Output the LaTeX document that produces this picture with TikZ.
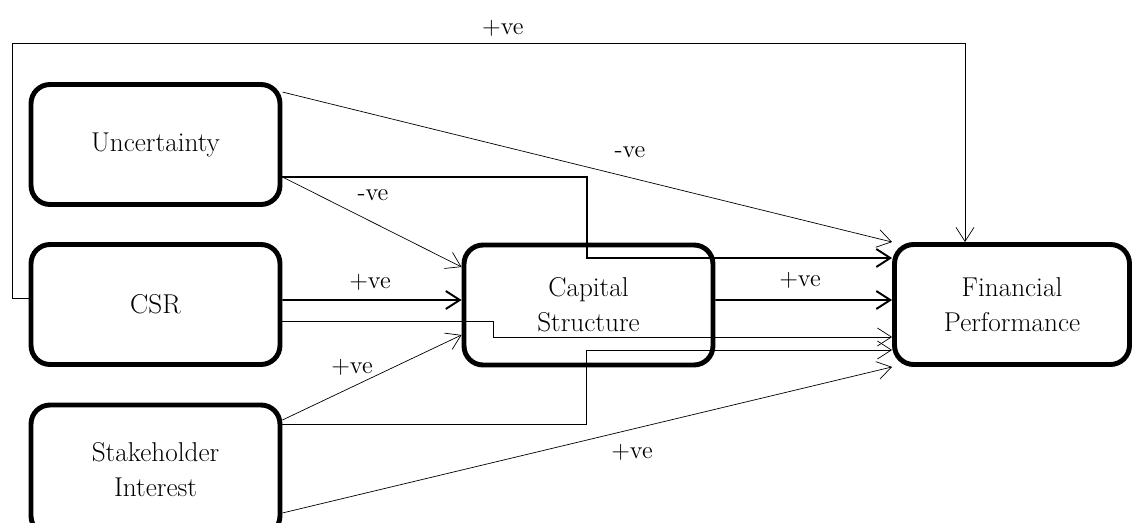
\documentclass[tikz,border=0pt]{standalone}
\usetikzlibrary{arrows.meta}
\tikzset{>={Straight Barb[length=2.8mm,width=3.6mm]}, line width=0.7pt}

\begin{document}
\begin{tikzpicture}[x=0.02cm,y=-0.02cm,
  block/.style={draw,rounded corners=0.38cm,line width=2.8pt,minimum height=2.4cm,align=center,font=\fontsize{15.5}{20}\selectfont},
  sign/.style={font=\fontsize{14}{16}\selectfont},
  mainlink/.style={->,line width=1.1pt}]
  \useasboundingbox (0,0) rectangle (1134,523);

  % Determinants
  \node[block,minimum width=4.98cm] (unc) at (155.5,144.5) {Uncertainty};
  \node[block,minimum width=4.98cm] (csr) at (155.5,304.5) {CSR};
  \node[block,minimum width=4.98cm,minimum height=2.6cm] (stake) at (155.5,470) {Stakeholder\\Interest};

  % Mediator and outcome
  \node[block,minimum width=4.98cm] (cap) at (588.5,305) {Capital\\Structure};
  \node[block,minimum width=4.7cm] (fin) at (1012,304.5) {Financial\\Performance};

  % CSR feedback loop over the top
  \coordinate (loop) at (965,43);
  \draw[->] ([yshift=.13cm]csr.west) -| (12,43) -- node[sign,above,pos=.515] (l1) {+ve} (loop) -- (loop |- fin.north);

  % Uncertainty links
  \draw[->] ([yshift=-.2cm]unc.north east) -- (fin.north west);
  \node[sign] (l2) at (630,152) {-ve};
  \coordinate (j1) at (587,258);
  \draw[mainlink] ([yshift=-.65cm]unc.east) -| (j1) -- (j1 -| fin.west);
  \draw[->] ([yshift=-.65cm]unc.east) -- ([yshift=.76cm]cap.west);
  \node[sign] (l3) at (373,195) {-ve};

  % CSR links
  \draw[mainlink] ([yshift=.09cm]csr.east) -- ([yshift=.1cm]cap.west);
  \node[sign] (l4) at (370,282) {+ve};
  \coordinate (j2) at (493,337);
  \draw[->] ([yshift=-.33cm]csr.east) -| (j2) -- (j2 -| fin.west);

  % Stakeholder links
  \draw[->] ([yshift=1cm]stake.east) -- ([yshift=-.6cm]cap.west);
  \node[sign] (l5) at (352,367) {+ve};
  \coordinate (j3) at (586,350);
  \draw[->] ([yshift=.92cm]stake.east) -| (j3) -- (j3 -| fin.west);
  \draw[->] ([yshift=-.86cm]stake.east) -- (fin.south west);
  \node[sign] (l6) at (632,452) {+ve};

  % Capital structure to performance
  \draw[mainlink] ([yshift=.1cm]cap.east) -- ([yshift=.09cm]fin.west);
  \node[sign] (l7) at (800,280) {+ve};
\end{tikzpicture}
\end{document}
